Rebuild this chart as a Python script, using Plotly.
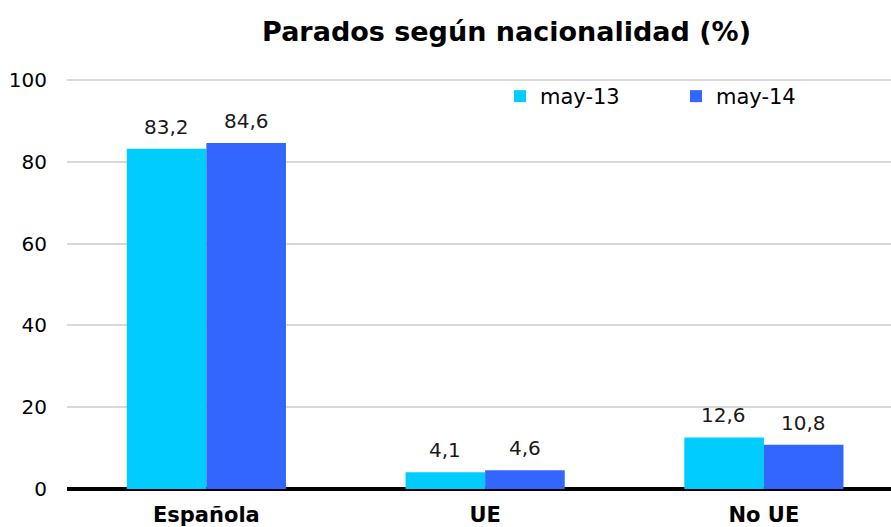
import plotly.graph_objects as go

categories = ["Española", "UE", "No UE"]
may13 = [83.2, 4.1, 12.6]
may14 = [84.6, 4.6, 10.8]
series_names = ["may-13", "may-14"]
colors = ["#00CCFF", "#3366FF"]

FONT = "Verdana, DejaVu Sans, sans-serif"


def fmt(v):
    return f"{v:.1f}".replace(".", ",")


fig = go.Figure()
for name, vals, col in zip(series_names, [may13, may14], colors):
    fig.add_trace(go.Bar(
        x=categories, y=vals, name=name,
        marker=dict(color=col, line=dict(width=0)),
    ))

# data labels above bars
for vals, shift in [(may13, -40), (may14, 40)]:
    for c, v in zip(categories, vals):
        fig.add_annotation(x=c, y=v, text=fmt(v), showarrow=False,
                           xshift=shift, yshift=8, yanchor="bottom",
                           font=dict(size=20, family=FONT, color="#1a1a1a"))

fig.update_layout(
    width=891, height=527,
    margin=dict(l=67, r=0, t=76, b=38, autoexpand=False),
    paper_bgcolor="white", plot_bgcolor="white",
    font=dict(family=FONT, color="#000000"),
    title=dict(text="<b>Parados según nacionalidad (%)</b>", x=0.5685, xanchor="center",
               xref="container", y=0.941, yanchor="middle",
               font=dict(size=27, family=FONT, color="#000")),
    barmode="group", bargap=0.429, bargroupgap=0,
    legend=dict(orientation="h", x=0.5255, xanchor="left", y=1.0, yanchor="top",
                font=dict(size=21, family=FONT, color="#000"),
                entrywidth=131, entrywidthmode="pixels", bgcolor="rgba(0,0,0,0)",
                traceorder="normal"),
    xaxis=dict(range=[-0.5, 2.456], showgrid=False, showline=False, ticks="",
               tickfont=dict(size=21, family=FONT, color="#000", weight="bold"),
               ticklabelstandoff=11),
    yaxis=dict(range=[0, 101], tickvals=[0, 20, 40, 60, 80, 100], showgrid=True,
               gridcolor="#d9d9d9", gridwidth=2, zeroline=True, zerolinecolor="#000",
               zerolinewidth=4, tickfont=dict(size=20, family=FONT, color="#000"),
               ticklabelstandoff=19, showline=False, ticks=""),
    showlegend=True,
)

fig.write_html("out.html", config={"displayModeBar": False},
               post_script="document.body.style.margin='0';document.body.style.padding='0';")
